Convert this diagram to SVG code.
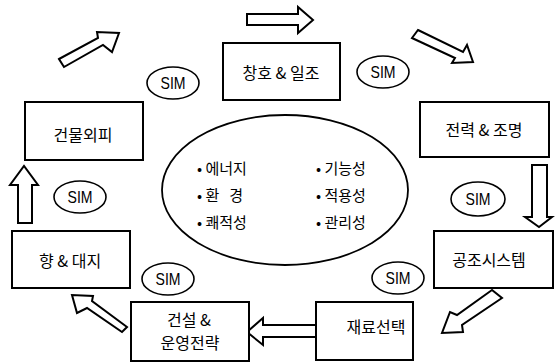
<svg xmlns="http://www.w3.org/2000/svg" width="556" height="363" viewBox="0 0 556 363">
<style>
.box{fill:#fff;stroke:#000;stroke-width:2}
.sim{fill:#fff;stroke:#000;stroke-width:1.6}
.arr{fill:#fff;stroke:#000;stroke-width:2;stroke-linejoin:miter}
.lbl{font-family:"Noto Sans CJK KR","Noto Sans",sans-serif;font-size:16px;fill:#000;text-anchor:middle}
.st{font-family:"Liberation Sans",Arial,sans-serif;font-size:17px;fill:#000;text-anchor:middle}
.it{font-family:"Noto Sans CJK KR","Noto Sans",sans-serif;font-size:15px;fill:#000;white-space:pre}
</style>
<rect width="556" height="363" fill="#fff"/>
<g id="connectors">
<polygon class="arr" points="59,59 98,38 97,32 119,33 112,52 103,45 64,67"/>
<polygon class="arr" points="247,14 298,14 298,7 313,20 298,33 298,25 247,25"/>
<polygon class="arr" points="418,30 463,52 467,45 473,62 452,63 455,58 412,38"/>
<polygon class="arr" points="532,165 547,165 547,217 552,217 539,227 525,217 532,217"/>
<polygon class="arr" points="492,290 457,315 450,312 442,333 463,332 462,325 502,298"/>
<polygon class="arr" points="316,325 263,325 263,318 247,332 263,345 263,337 316,337"/>
<polygon class="arr" points="127,327 92,301 93,296 72,295 77,313 87,308 122,332"/>
<polygon class="arr" points="18,223 32,223 32,185 38,185 24,166 10,185 18,185"/>
</g>
<g id="center">
<ellipse cx="285" cy="190" rx="123" ry="75" fill="#fff" stroke="#000" stroke-width="1.8"/>
<text class="it" x="197" y="174">• 에너지</text>
<text class="it" x="197" y="201" xml:space="preserve">• 환   경</text>
<text class="it" x="197" y="228">• 쾌적성</text>
<text class="it" x="316" y="174">• 기능성</text>
<text class="it" x="316" y="201">• 적용성</text>
<text class="it" x="316" y="228">• 관리성</text>
</g>
<g id="n-window"><rect class="box" x="223" y="43" width="117" height="57"/><text class="lbl" x="281" y="79">창호 &amp; 일조</text></g>
<g id="n-envelope"><rect class="box" x="25" y="102" width="118" height="58"/><text class="lbl" x="83" y="141">건물외피</text></g>
<g id="n-power"><rect class="box" x="420" y="102" width="129" height="55"/><text class="lbl" x="484" y="136">전력 &amp; 조명</text></g>
<g id="n-hvac"><rect class="box" x="434" y="231" width="119" height="57"/><text class="lbl" x="489" y="266">공조시스템</text></g>
<g id="n-material"><rect class="box" x="316" y="302" width="97" height="58"/><text class="lbl" x="376" y="333">재료선택</text></g>
<g id="n-construct"><rect class="box" x="131" y="302" width="118" height="59"/><text class="lbl" x="189" y="326">건설 &amp;</text><text class="lbl" x="190" y="349">운영전략</text></g>
<g id="n-site"><rect class="box" x="12" y="231" width="118" height="57"/><text class="lbl" x="70" y="267">향 &amp; 대지</text></g>
<g id="sims">
<g id="sim1"><ellipse class="sim" cx="173" cy="83" rx="26" ry="16"/><text class="st" x="173" y="89" textLength="25" lengthAdjust="spacingAndGlyphs">SIM</text></g>
<g id="sim2"><ellipse class="sim" cx="383" cy="72" rx="26" ry="16"/><text class="st" x="383" y="78" textLength="25" lengthAdjust="spacingAndGlyphs">SIM</text></g>
<g id="sim3"><ellipse class="sim" cx="478" cy="199" rx="27" ry="17"/><text class="st" x="478" y="205" textLength="25" lengthAdjust="spacingAndGlyphs">SIM</text></g>
<g id="sim4"><ellipse class="sim" cx="398" cy="278" rx="26" ry="16"/><text class="st" x="398" y="284" textLength="25" lengthAdjust="spacingAndGlyphs">SIM</text></g>
<g id="sim5"><ellipse class="sim" cx="168" cy="279" rx="26" ry="16"/><text class="st" x="168" y="285" textLength="25" lengthAdjust="spacingAndGlyphs">SIM</text></g>
<g id="sim6"><ellipse class="sim" cx="80" cy="197" rx="26" ry="16"/><text class="st" x="80" y="203" textLength="25" lengthAdjust="spacingAndGlyphs">SIM</text></g>
</g>
</svg>
